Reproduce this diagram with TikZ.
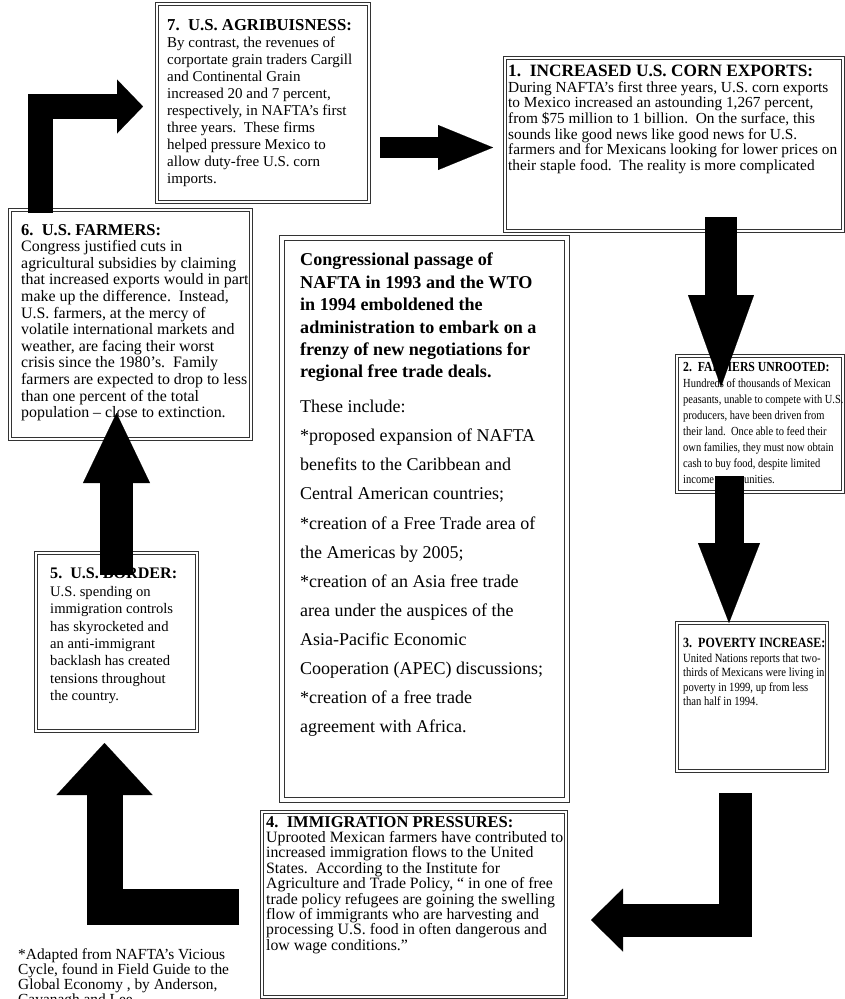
\documentclass[tikz,border=0pt]{standalone}
\usepackage{fontspec}
\usepackage{graphicx}
\setmainfont{Liberation Serif}
\usetikzlibrary{arrows.meta,fit}
\newcommand\hd[2]{{\fontsize{#1}{12}\selectfont\bfseries #2}}
\newcommand\narrow[1]{\scalebox{.85}[1]{\begin{tabular}[t]{@{}l@{}}#1\end{tabular}}}
\tikzset{
  frame/.style={draw=black!80, double=white, double distance=1.8pt, line width=.7pt, inner sep=0pt},
  cframe/.style={frame, double distance=3.5pt, line width=1.1pt},
  txt/.style 2 args={anchor=north west, inner sep=0pt, align=left, font=\fontsize{#1}{#2}\selectfont},
  cbold/.style={txt={18.1}{22.4}, font=\fontsize{18.1}{22.4}\selectfont\bfseries},
  blk/.style n args={3}{line width=#1, line join=miter, -{Triangle[length=#2, width=#3, line width=.1pt]}},
}
\begin{document}
\begin{tikzpicture}[x=1pt, y=-1pt]
  \useasboundingbox (0,0) rectangle (845,999);
  \clip (0,0) rectangle (845,999);
  \fill[white] (0,0) rectangle (845,999);
  % frames
  \foreach \n/\xa/\ya/\xb/\yb in {b7/157/4/369/202, b1/505/58/843/231, b6/10/210/251/439,
      b2/677/356/843/492, b3/677/623/827/771, b5/36/553/197/731, b4/262/812/566/997}
    \node[frame, fit={(\xa,\ya) (\xb,\yb)}] (\n) {};
  \node[cframe, fit={(282,238) (567,800)}] (bc) {};
  % texts
  \node[txt={15}{17}] (t7) at (167,19) {\hd{16.7}{7.\ \ U.S. AGRIBUISNESS:}\\
    By contrast, the revenues of\\
    corportate grain traders Cargill\\
    and Continental Grain\\
    increased 20 and 7 percent,\\
    respectively, in NAFTA’s first\\
    three years.\ \ These firms\\
    helped pressure Mexico to\\
    allow duty-free U.S. corn\\
    imports.};
  \node[txt={15.35}{15.6}] (t1) at (508,65) {\hd{17.3}{1.\ \ INCREASED U.S. CORN EXPORTS:}\\
    During NAFTA’s first three years, U.S. corn exports\\
    to Mexico increased an astounding 1,267 percent,\\
    from \$75 million to 1 billion.\ \ On the surface, this\\
    sounds like good news like good news for U.S.\\
    farmers and for Mexicans looking for lower prices on\\
    their staple food.\ \ The reality is more complicated};
  \node[txt={15.9}{16.6}] (t6) at (21,224) {\hd{16.5}{6.\ \ U.S. FARMERS:}\\
    Congress justified cuts in\\
    agricultural subsidies by claiming\\
    that increased exports would in part\\
    make up the difference.\ \ Instead,\\
    U.S. farmers, at the mercy of\\
    volatile international markets and\\
    weather, are facing their worst\\
    crisis since the 1980’s.\ \ Family\\
    farmers are expected to drop to less\\
    than one percent of the total\\
    population -- close to extinction.};
  \node[cbold] (tcb) at (300,253) {Congressional passage of\\
    NAFTA in 1993 and the WTO\\
    in 1994 emboldened the\\
    administration to embark on a\\
    frenzy of new negotiations for\\
    regional free trade deals.};
  \node[txt={18}{29.1}] (tcl) at (300,400) {These include:\\
    *proposed expansion of NAFTA\\
    benefits to the Caribbean and\\
    Central American countries;\\
    *creation of a Free Trade area of\\
    the Americas by 2005;\\
    *creation of an Asia free trade\\
    area under the auspices of the\\
    Asia-Pacific Economic\\
    Cooperation (APEC) discussions;\\
    *creation of a free trade\\
    agreement with Africa.};
  \node[txt={12.35}{16}] (t2) at (683,360) {\narrow{\hd{13.8}{2.\ \ FARMERS UNROOTED:}\\
    Hundreds of thousands of Mexican\\
    peasants, unable to compete with U.S.\\
    producers, have been driven from\\
    their land.\ \ Once able to feed their\\
    own families, they must now obtain\\
    cash to buy food, despite limited\\
    income oppurtunities.}};
  \node[txt={12.5}{14.6}] (t3) at (683,637) {\narrow{\hd{14.1}{3.\ \ POVERTY INCREASE:}\\
    United Nations reports that two-\\
    thirds of Mexicans were living in\\
    poverty in 1999, up from less\\
    than half in 1994.}};
  \node[txt={14.6}{17.4}] (t5) at (50,568) {\hd{16.1}{5.\ \ U.S. BORDER:}\\
    U.S. spending on\\
    immigration controls\\
    has skyrocketed and\\
    an anti-immigrant\\
    backlash has created\\
    tensions throughout\\
    the country.};
  \node[txt={15.8}{15.4}] (t4) at (266,816) {\hd{16.5}{4.\ \ IMMIGRATION PRESSURES:}\\
    Uprooted Mexican farmers have contributed to\\
    increased immigration flows to the United\\
    States.\ \ According to the Institute for\\
    Agriculture and Trade Policy, “ in one of free\\
    trade policy refugees are goining the swelling\\
    flow of immigrants who are harvesting and\\
    processing U.S. food in often dangerous and\\
    low wage conditions.”};
  \node[txt={15.4}{15}] (foot) at (18,948) {*Adapted from NAFTA’s Vicious\\
    Cycle, found in Field Guide to the\\
    Global Economy , by Anderson,\\
    Cavanagh and Lee};
  % block arrows
  \coordinate (a6) at (40,213);
  \coordinate (a7) at (143,106.5);
  \coordinate (a7r) at (380,147.5);
  \coordinate (a1) at (493,147.5);
  \coordinate (a1b) at (721,217);
  \coordinate (a2) at (721,387);
  \coordinate (a2b) at (729,476);
  \coordinate (a3) at (729,623);
  \coordinate (a3b) at (735.5,793);
  \coordinate (a4) at (591,920);
  \coordinate (a4l) at (239,907);
  \coordinate (a5) at (104.5,743);
  \coordinate (a5t) at (116.5,575);
  \coordinate (a6b) at (116.5,413);
  \draw[blk={25pt}{26pt}{54pt}] (a6) |- (a7);
  \draw[blk={21pt}{55pt}{45pt}] (a7r) -- (a1);
  \draw[blk={32pt}{92pt}{66pt}] (a1b) -- (a2);
  \draw[blk={29pt}{80pt}{62pt}] (a2b) -- (a3);
  \draw[blk={33pt}{32pt}{63pt}] (a3b) |- (a4);
  \draw[blk={36pt}{52pt}{96pt}] (a4l) -| (a5);
  \draw[blk={33pt}{70pt}{67pt}] (a5t) -- (a6b);
\end{tikzpicture}
\end{document}
